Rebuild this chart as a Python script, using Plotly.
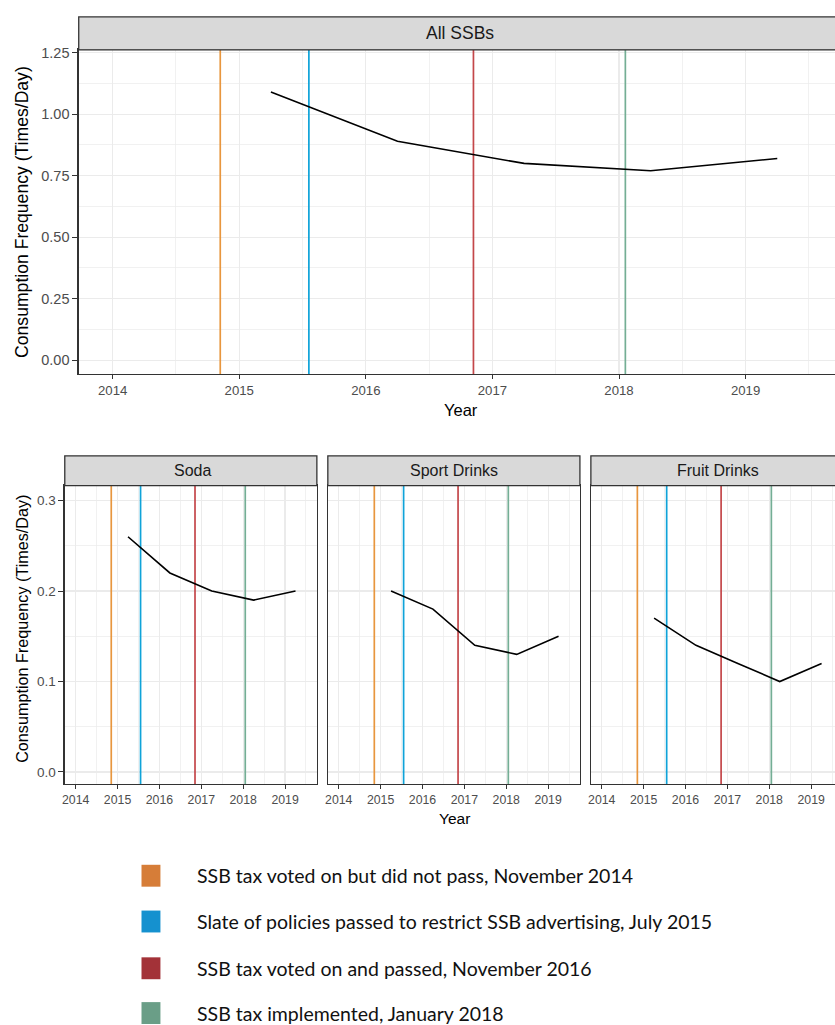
import plotly.graph_objects as go

# ---------------- data ----------------
years = [2015.25, 2016.25, 2017.25, 2018.25, 2019.25]
all_ssbs = [1.09, 0.89, 0.80, 0.77, 0.82]
soda = [0.26, 0.22, 0.20, 0.19, 0.20]
sport_drinks = [0.20, 0.18, 0.14, 0.13, 0.15]
fruit_drinks = [0.17, 0.14, 0.12, 0.10, 0.12]

event_dates = [2014.85, 2015.55, 2016.85, 2018.05]
event_labels = [
    "SSB tax voted on but did not pass, November 2014",
    "Slate of policies passed to restrict SSB advertising, July 2015",
    "SSB tax voted on and passed, November 2016",
    "SSB tax implemented, January 2018",
]
line_colors = ["#E8963E", "#0FA3D9", "#C4474A", "#74AE95"]
legend_colors = ["#D67D38", "#1591CF", "#A33238", "#6A9E87"]

top_ticks = [0, 0.25, 0.5, 0.75, 1.0, 1.25]
top_ticklabels = ["0.00", "0.25", "0.50", "0.75", "1.00", "1.25"]
bottom_ticks = [0, 0.1, 0.2, 0.3]
bottom_ticklabels = ["0.0", "0.1", "0.2", "0.3"]
year_ticks = [2014, 2015, 2016, 2017, 2018, 2019]

W, H = 835, 1025

def px(x):
    return x / W

def py(y):
    return (H - y) / H

fig = go.Figure()

FONT = "Liberation Sans, Arial, sans-serif"
panels = [
    # name, axis suffix, series, x-domain px, y-domain px, strip px, strip-text x,
    # xrange, yrange, show y labels, mirror right
    ("All SSBs", "", all_ssbs, (76, 835), (45, 371), (12, 45), 459,
     [2013.732, 2019.706], [-0.057, 1.262], True, False),
    ("Soda", "2", soda, (62, 315), (483, 783), (453, 483), 190,
     [2013.74, 2019.76], [-0.0135, 0.3165], True, True),
    ("Sport Drinks", "3", sport_drinks, (326, 579), (483, 783), (453, 483), 453,
     [2013.74, 2019.76], [-0.0135, 0.3165], False, True),
    ("Fruit Drinks", "4", fruit_drinks, (590, 835), (483, 783), (453, 483), 718,
     [2013.74, 2019.57], [-0.0135, 0.3165], False, False),
]

GRID = "#EBEBEB"
BORDER = "#333333"
shapes = []
annotations = []

for i, (name, sfx, series, xd, yd, sd, stx, xr, yr, showy, mirror_right) in enumerate(panels):
    xa = "x" + sfx
    ya = "y" + sfx
    is_top = (i == 0)
    xtick_font = dict(family=FONT, size=13.2 if is_top else 12.3, color="#4D4D4D")
    ytick_font = dict(family=FONT, size=14.5 if is_top else 13.5, color="#4D4D4D")
    # event lines
    for d, c in zip(event_dates, line_colors):
        fig.add_trace(go.Scatter(x=[d, d], y=[yr[0], yr[1]], mode="lines",
                                 line=dict(color=c, width=1.7), xaxis=xa, yaxis=ya,
                                 showlegend=False, hoverinfo="skip"))
    fig.add_trace(go.Scatter(x=years, y=series, mode="lines",
                             line=dict(color="black", width=1.6), xaxis=xa, yaxis=ya,
                             showlegend=False))
    xkey = "xaxis" + sfx
    ykey = "yaxis" + sfx
    fig.layout[xkey] = dict(
        domain=[px(xd[0]), min(1.0, px(xd[1]))], range=xr, anchor=ya,
        tickmode="array", tickvals=year_ticks, ticktext=[str(y) for y in year_ticks],
        ticks="outside", ticklen=4, tickcolor=BORDER, tickwidth=1,
        showgrid=True, gridcolor=GRID, gridwidth=1.1,
        minor=dict(tickmode="array", tickvals=[y + 0.5 for y in [2013] + year_ticks],
                   showgrid=True, gridcolor=GRID, gridwidth=0.7, ticks=""),
        showline=True, linecolor=BORDER, linewidth=1.3, mirror=True,
        tickfont=xtick_font, zeroline=False, fixedrange=True,
    )
    if is_top:
        tv, tt = top_ticks, top_ticklabels
        minor_vals = [v + 0.125 for v in top_ticks]
    else:
        tv, tt = bottom_ticks, bottom_ticklabels
        minor_vals = [v + 0.05 for v in bottom_ticks]
    fig.layout[ykey] = dict(
        domain=[py(yd[1]), py(yd[0])], range=yr, anchor=xa,
        tickmode="array", tickvals=tv, ticktext=tt,
        showticklabels=showy,
        ticks="outside" if showy else "", ticklen=5, tickcolor=BORDER, tickwidth=1,
        showgrid=True, gridcolor=GRID, gridwidth=1.1,
        minor=dict(tickmode="array", tickvals=minor_vals, showgrid=True,
                   gridcolor=GRID, gridwidth=0.7, ticks=""),
        showline=True, linecolor=BORDER, linewidth=1.3, mirror=mirror_right,
        tickfont=ytick_font, zeroline=False, fixedrange=True,
    )
    # strip
    x1s = xd[1] if xd[1] < 835 else 840
    shapes.append(dict(type="rect", xref="paper", yref="paper",
                       x0=px(xd[0]), x1=px(x1s), y0=py(sd[1]), y1=py(sd[0]),
                       fillcolor="#D9D9D9", line=dict(color=BORDER, width=1.3), layer="above"))
    annotations.append(dict(text=name, xref="paper", yref="paper",
                            x=px(stx), y=py((sd[0] + sd[1]) / 2), showarrow=False,
                            xanchor="center", yanchor="middle",
                            font=dict(family=FONT, size=17.5 if is_top else 16,
                                      color="#1A1A1A")))

# axis titles
annotations += [
    dict(text="Year", xref="paper", yref="paper", x=px(460), y=py(407),
         showarrow=False, font=dict(family=FONT, size=16.5, color="black"),
         xanchor="center", yanchor="middle"),
    dict(text="Year", xref="paper", yref="paper", x=px(453), y=py(817),
         showarrow=False, font=dict(family=FONT, size=15.5, color="black"),
         xanchor="center", yanchor="middle"),
    dict(text="Consumption Frequency (Times/Day)", xref="paper", yref="paper",
         x=px(19), y=py(208), textangle=-90, showarrow=False,
         font=dict(family=FONT, size=17.6, color="black"),
         xanchor="center", yanchor="middle"),
    dict(text="Consumption Frequency (Times/Day)", xref="paper", yref="paper",
         x=px(19), y=py(627), textangle=-90, showarrow=False,
         font=dict(family=FONT, size=16.2, color="black"),
         xanchor="center", yanchor="middle"),
]

# legend (manual)
row_y = [875, 921, 968, 1013]
for lab, col, ry in zip(event_labels, legend_colors, row_y):
    shapes.append(dict(type="rect", xref="paper", yref="paper",
                       x0=px(139), x1=px(158), y0=py(ry + 11), y1=py(ry - 11),
                       fillcolor=col, line=dict(width=0)))
    annotations.append(dict(text=lab, xref="paper", yref="paper", x=px(193), y=py(ry),
                            showarrow=False, xanchor="left", yanchor="middle",
                            font=dict(family="Lato, Carlito, Calibri, sans-serif", size=19.5,
                                      color="#111111")))

fig.update_layout(
    width=W, height=H, margin=dict(l=0, r=0, t=0, b=0),
    paper_bgcolor="white", plot_bgcolor="white",
    shapes=shapes, annotations=annotations, showlegend=False,
)

fig.write_html(
    "out.html",
    config={"displayModeBar": False, "staticPlot": True},
    post_script="document.body.style.margin='0';document.body.style.padding='0';"
                "document.body.style.overflow='hidden';"
                "document.documentElement.style.overflow='hidden';",
)
